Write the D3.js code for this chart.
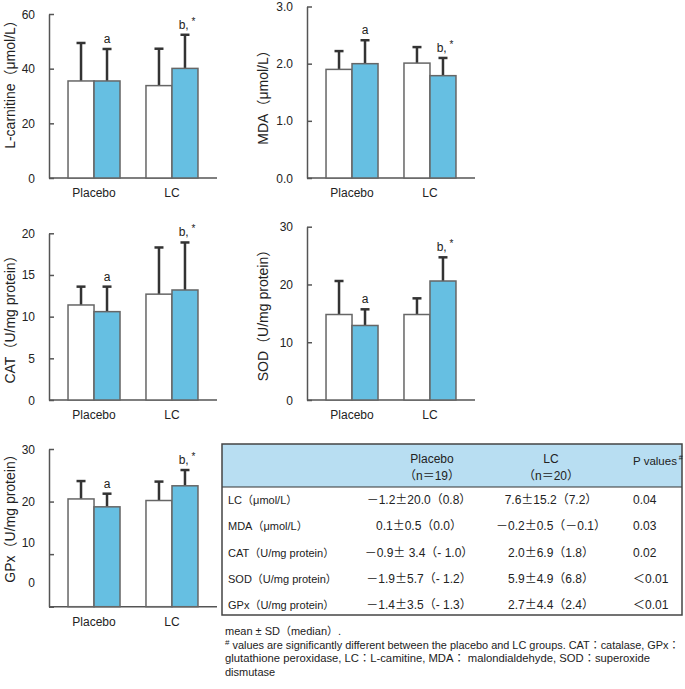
<!DOCTYPE html>
<html>
<head>
<meta charset="utf-8">
<script src="https://cdn.jsdelivr.net/npm/d3@7"></script>
<style>
  body { margin: 0; background: #fff; }
  text { font-family: "Liberation Sans", Arial, "Noto Sans CJK JP", sans-serif; fill: #222; }
  .cjk { font-family: "Noto Sans CJK JP", sans-serif; }
</style>
</head>
<body>
<div id="chart"></div>
<script>
// groups on the x axis
var groups = ["Placebo", "LC"];

// mean and SD: pre (white) and post (blue)
var lcPre = [35.5, 33.8], lcPreSd = [13.9, 13.5];
var lcPost = [35.5, 40.1], lcPostSd = [11.7, 12.3];
var mdaPre = [1.90, 2.01], mdaPreSd = [0.32, 0.28];
var mdaPost = [2.00, 1.79], mdaPostSd = [0.41, 0.31];
var catPre = [11.4, 12.7], catPreSd = [2.2, 5.6];
var catPost = [10.6, 13.2], catPostSd = [3.0, 5.7];
var sodPre = [14.8, 14.8], sodPreSd = [5.8, 2.8];
var sodPost = [12.9, 20.6], sodPostSd = [2.8, 4.1];
var gpxPre = [20.5, 20.2], gpxPreSd = [3.4, 3.6];
var gpxPost = [19.0, 23.0], gpxPostSd = [2.5, 3.0];

// table
var tableRows = ["LC（μmol/L）", "MDA（μmol/L）", "CAT（U/mg protein）", "SOD（U/mg protein）", "GPx（U/mg protein）"];
var placeboCol = ["－1.2±20.0（0.8）", "0.1±0.5（0.0）", "－0.9± 3.4（- 1.0）", "－1.9±5.7（- 1.2）", "－1.4±3.5（- 1.3）"];
var lcCol = ["7.6±15.2（7.2）", "－0.2±0.5（－0.1）", "2.0±6.9（1.8）", "5.9±4.9（6.8）", "2.7±4.4（2.4）"];
var pValues = ["0.04", "0.03", "0.02", "＜0.01", "＜0.01"];

var svg = d3.select("#chart").append("svg")
    .attr("width", 685).attr("height", 689);

var barW = 168;
var blue = "#66bfe2";

// one small bar panel
function panel(opt) {
  var g = svg.append("g").attr("transform", "translate(" + opt.x + ",0)");
  var y = d3.scaleLinear().domain(opt.domain).range([opt.bottom, opt.top]);
  var x0 = d3.scaleBand().domain(groups).range([0, barW]).paddingInner(0.333).paddingOuter(0.244);
  var x1 = d3.scaleBand().domain(["pre", "post"]).range([0, x0.bandwidth()]);

  var ax = g.append("g")
      .call(d3.axisLeft(y).tickValues(opt.ticks).tickSize(-5).tickSizeOuter(0)
        .tickFormat(opt.fmt || d3.format("d")));
  ax.select(".domain").attr("stroke", "#555").attr("stroke-width", 1.5);
  ax.selectAll(".tick line").attr("stroke", "#555").attr("stroke-width", 1.5);
  ax.selectAll(".tick text").attr("x", -14).style("font-size", "12px").attr("fill", "#222")
      .attr("dy", function(d) { return (opt.shift && opt.shift[d] ? opt.shift[d] : 0) + 4 + "px"; });

  g.append("line").attr("x1", 0).attr("x2", barW)
      .attr("y1", opt.bottom).attr("y2", opt.bottom)
      .attr("stroke", "#555").attr("stroke-width", 1.5);

  groups.forEach(function(grp, i) {
    var sets = [["pre", opt.pre[i], opt.preSd[i], "#fff"], ["post", opt.post[i], opt.postSd[i], blue]];
    sets.forEach(function(s) {
      var bx = x0(grp) + x1(s[0]);
      var cx = bx + x1.bandwidth() / 2;
      var top = y(s[1] + s[2]);
      g.append("line").attr("x1", cx).attr("x2", cx).attr("y1", y(s[1])).attr("y2", top)
          .attr("stroke", "#333").attr("stroke-width", 2.5);
      g.append("line").attr("x1", cx - 4.5).attr("x2", cx + 4.5).attr("y1", top).attr("y2", top)
          .attr("stroke", "#333").attr("stroke-width", 2.5);
      g.append("rect").attr("x", bx).attr("y", y(s[1]))
          .attr("width", x1.bandwidth()).attr("height", opt.bottom - y(s[1]))
          .attr("fill", s[3]).attr("stroke", "#666").attr("stroke-width", 1.5);
      if (s[0] == "post") {
        var t = g.append("text").attr("x", cx + (i ? 2 : 0)).attr("y", top - 6)
            .attr("text-anchor", "middle").style("font-size", "12px");
        if (i == 0) t.text("a");
        else { t.text("b,"); t.append("tspan").attr("dy", -4).style("font-size", "10px").text(" *"); }
      }
    });
    g.append("text").attr("x", x0(grp) + x0.bandwidth() / 2).attr("y", opt.bottom + 19)
        .attr("text-anchor", "middle").style("font-size", "12px").text(grp);
  });

  svg.append("text")
      .attr("transform", "translate(" + opt.titleX + "," + opt.titleY + ") rotate(-90)")
      .attr("text-anchor", "middle").attr("dy", "0.35em").style("font-size", "14px")
      .text(opt.title);
}

panel({x: 49, top: 14, bottom: 178, domain: [0, 60], ticks: [0, 20, 40, 60],
  pre: lcPre, preSd: lcPreSd, post: lcPost, postSd: lcPostSd,
  title: "L-carnitine（μmol/L）", titleX: 10, titleY: 81});
panel({x: 307, top: 6.5, bottom: 178, domain: [0, 3], ticks: [0, 1, 2, 3], fmt: d3.format(".1f"),
  pre: mdaPre, preSd: mdaPreSd, post: mdaPost, postSd: mdaPostSd,
  title: "MDA（μmol/L）", titleX: 263, titleY: 94});
panel({x: 49, top: 233.3, bottom: 400, domain: [0, 20], ticks: [0, 5, 10, 15, 20],
  pre: catPre, preSd: catPreSd, post: catPost, postSd: catPostSd,
  title: "CAT（U/mg protein）", titleX: 10, titleY: 316});
panel({x: 307, top: 226.7, bottom: 400, domain: [0, 30], ticks: [0, 10, 20, 30],
  pre: sodPre, preSd: sodPreSd, post: sodPost, postSd: sodPostSd,
  title: "SOD（U/mg protein）", titleX: 263, titleY: 312});
panel({x: 49, top: 449, bottom: 606.7, domain: [0, 30], ticks: [0, 10, 20, 30], shift: {0: -24, 10: -12},
  pre: gpxPre, preSd: gpxPreSd, post: gpxPost, postSd: gpxPostSd,
  title: "GPx（U/mg protein）", titleX: 10, titleY: 515});

// table
var tx0 = 222, tx1 = 682, ty0 = 444, ty1 = 615, th = 487;
svg.append("rect").attr("x", tx0).attr("y", ty0).attr("width", tx1 - tx0).attr("height", th - ty0)
    .attr("fill", "#b8def2");
svg.append("line").attr("x1", tx0).attr("x2", tx1).attr("y1", th).attr("y2", th)
    .attr("stroke", "#333").attr("stroke-width", 1.2);
svg.append("rect").attr("x", tx0).attr("y", ty0).attr("width", tx1 - tx0).attr("height", ty1 - ty0)
    .attr("fill", "none").attr("stroke", "#444").attr("stroke-width", 1.5);

// text cell; the ± sign is set in the CJK face so it is wide, as in the reference
function cell(x, y, s, anchor, size) {
  var t = svg.append("text").attr("x", x).attr("y", y).attr("text-anchor", anchor || "start")
      .style("font-size", (size || 12) + "px");
  s.split("±").forEach(function(part, k) {
    if (k > 0) t.append("tspan").attr("class", "cjk").text("±");
    t.append("tspan").text(part);
  });
  return t;
}
cell(432, 463, "Placebo", "middle");
cell(432, 480, "（n＝19）", "middle");
cell(551, 463, "LC", "middle");
cell(551, 480, "（n＝20）", "middle");
var pv = cell(633, 465, "P values", "start", 11.5);
pv.append("tspan").attr("dy", -5).style("font-size", "7px").text(" #");

var rowY = d3.scalePoint().domain(tableRows).range([504, 609]);
tableRows.forEach(function(r, i) {
  cell(228, rowY(r), r, "start", 11);
  cell(419, rowY(r), placeboCol[i], "middle");
  cell(551, rowY(r), lcCol[i], "middle");
  cell(633, rowY(r), pValues[i]);
});

// footnote
var notes = [
  "mean ±  SD（median）.",
  " values are significantly different between the placebo and LC groups.  CAT：catalase,   GPx：",
  "glutathione peroxidase,   LC：L-camitine,   MDA：  malondialdehyde,   SOD：superoxide",
  "dismutase"
];
var noteLen = [0, 450, 425, 0];
notes.forEach(function(n, i) {
  var t = svg.append("text").attr("x", 225).attr("y", 635 + i * 13.5).style("font-size", "11px");
  if (i == 1) t.append("tspan").attr("dy", -4).style("font-size", "8px").text("#");
  var s = t.append("tspan").attr("dy", i == 1 ? 4 : 0).text(n);
  if (noteLen[i]) s.attr("textLength", noteLen[i]).attr("lengthAdjust", "spacingAndGlyphs");
});
</script>
</body>
</html>
